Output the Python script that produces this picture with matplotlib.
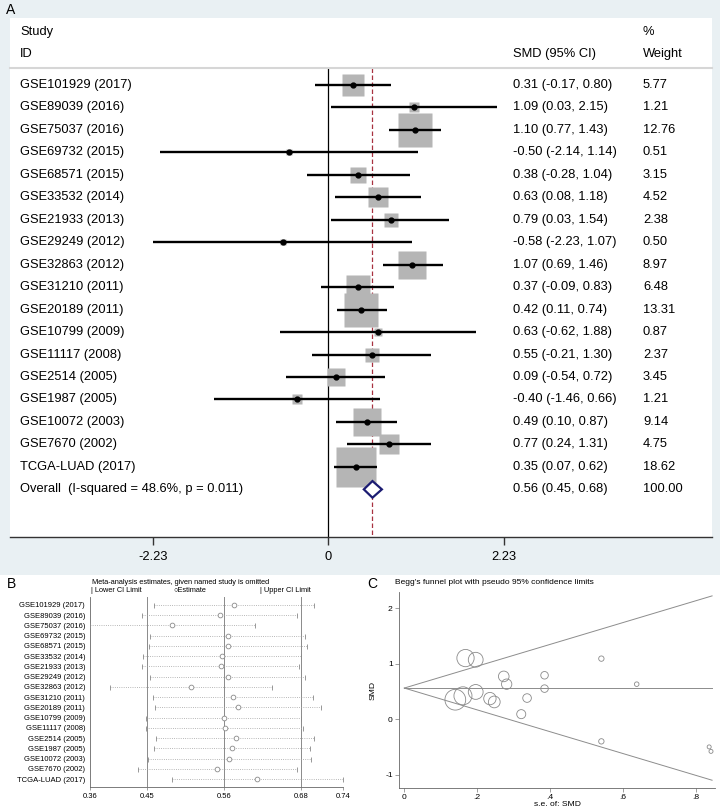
import numpy as np
import matplotlib
matplotlib.use("Agg")
import matplotlib.pyplot as plt
from matplotlib.patches import Rectangle, Polygon

plt.rcParams['font.family'] = ['Liberation Sans', 'DejaVu Sans']

# ---- data ----
studies = ["GSE101929 (2017)", "GSE89039 (2016)", "GSE75037 (2016)", "GSE69732 (2015)",
           "GSE68571 (2015)", "GSE33532 (2014)", "GSE21933 (2013)", "GSE29249 (2012)",
           "GSE32863 (2012)", "GSE31210 (2011)", "GSE20189 (2011)", "GSE10799 (2009)",
           "GSE11117 (2008)", "GSE2514 (2005)", "GSE1987 (2005)", "GSE10072 (2003)",
           "GSE7670 (2002)", "TCGA-LUAD (2017)"]
smd = [0.31, 1.09, 1.10, -0.50, 0.38, 0.63, 0.79, -0.58, 1.07,
       0.37, 0.42, 0.63, 0.55, 0.09, -0.40, 0.49, 0.77, 0.35]
ci_low = [-0.17, 0.03, 0.77, -2.14, -0.28, 0.08, 0.03, -2.23, 0.69,
          -0.09, 0.11, -0.62, -0.21, -0.54, -1.46, 0.10, 0.24, 0.07]
ci_high = [0.80, 2.15, 1.43, 1.14, 1.04, 1.18, 1.54, 1.07, 1.46,
           0.83, 0.74, 1.88, 1.30, 0.72, 0.66, 0.87, 1.31, 0.62]
weights = [5.77, 1.21, 12.76, 0.51, 3.15, 4.52, 2.38, 0.50, 8.97,
           6.48, 13.31, 0.87, 2.37, 3.45, 1.21, 9.14, 4.75, 18.62]
overall_est, overall_low, overall_high = 0.56, 0.45, 0.68
overall_label = "Overall  (I-squared = 48.6%, p = 0.011)"
forest_ticks = [-2.23, 0, 2.23]

# leave-one-out sensitivity (panel B)
loo_low = [0.458, 0.440, 0.362, 0.452, 0.450, 0.441, 0.440, 0.452, 0.392,
           0.456, 0.459, 0.446, 0.446, 0.461, 0.458, 0.448, 0.434, 0.484]
loo_est = [0.577, 0.556, 0.485, 0.568, 0.568, 0.559, 0.557, 0.568, 0.513,
           0.575, 0.583, 0.562, 0.563, 0.580, 0.574, 0.570, 0.552, 0.612]
loo_high = [0.697, 0.672, 0.608, 0.683, 0.686, 0.678, 0.674, 0.684, 0.634,
            0.695, 0.707, 0.677, 0.680, 0.697, 0.691, 0.692, 0.672, 0.740]
loo_ticks = [0.3617, 0.4474, 0.5624, 0.6770, 0.7403]
loo_ticklabels = ["0.36", "0.45", "0.56", "0.68", "0.74"]

# funnel plot (panel C)
se = [0.247, 0.541, 0.168, 0.837, 0.337, 0.281, 0.385, 0.842, 0.196,
      0.235, 0.161, 0.638, 0.385, 0.321, 0.541, 0.196, 0.273, 0.140]
funnel_se_max = 0.845
funnel_upper_end = 2.22
funnel_lower_end = -1.10

# ---- figure ----
W, H = 720, 808
BG = '#e9f0f3'


def fx(px):
    return px / W


def fy(py):
    return 1 - py / H


fig = plt.figure(figsize=(7.2, 8.08), dpi=100)
fig.patch.set_facecolor('white')
fig.patches.append(Rectangle((0, fy(575)), 1, 575 / H, transform=fig.transFigure,
                             facecolor=BG, edgecolor='none', zorder=-5))

# Panel A: forest plot
axA = fig.add_axes([fx(10), fy(537), fx(702), (537 - 18) / H])
axA.set_facecolor('white')
axA.set_xlim(-4.057, 4.885)
axA.set_ylim(20.12, -2.98)
for s in ['top', 'left', 'right']:
    axA.spines[s].set_visible(False)
axA.spines['bottom'].set_color('#333333')
axA.spines['bottom'].set_linewidth(1.0)
axA.set_yticks([])
axA.set_xticks(forest_ticks)
axA.set_xticklabels([f"{t:.2f}" if t != 0 else "0" for t in forest_ticks])
axA.tick_params(axis='x', length=5.8, width=1.0, color='#333333', pad=4, labelsize=9.3)

sep_y = -0.757
tr = axA.get_yaxis_transform()
axA.plot([0, 1], [sep_y, sep_y], transform=tr, color='#d6d6d6', lw=1.5, clip_on=False)
axA.plot([0, 0], [sep_y, 20.12], color='black', lw=0.9, zorder=1)
axA.plot([overall_est, overall_est], [sep_y, 20.12], color='#a83240', lw=0.9,
         ls=(0, (3.6, 2.0)), zorder=1)

fs = 9.3
axA.text(0.0142, -2.36, "Study", transform=tr, fontsize=fs, va='center')
axA.text(0.0142, -1.38, "ID", transform=tr, fontsize=fs, va='center')
axA.text(0.7165, -1.38, "SMD (95% CI)", transform=tr, fontsize=fs, va='center')
axA.text(0.9017, -2.36, "%", transform=tr, fontsize=fs, va='center')
axA.text(0.9017, -1.38, "Weight", transform=tr, fontsize=fs, va='center')

for i, name in enumerate(studies):
    axA.plot(smd[i], i, marker='s', ms=6.7 * np.sqrt(weights[i]), color='#b5b5b5',
             mec='none', zorder=2)
    axA.plot([ci_low[i], ci_high[i]], [i, i], color='black', lw=1.7, zorder=3,
             solid_capstyle='butt')
    axA.plot(smd[i], i, marker='o', ms=3.5, color='black', zorder=4)
    axA.text(0.0142, i, name, transform=tr, fontsize=fs, va='center')
    axA.text(0.7165, i, f"{smd[i]:.2f} ({ci_low[i]:.2f}, {ci_high[i]:.2f})",
             transform=tr, fontsize=fs, va='center')
    axA.text(0.9017, i, f"{weights[i]:.2f}", transform=tr, fontsize=fs, va='center')

oy = len(studies)
axA.add_patch(Polygon([(overall_low, oy), (overall_est, oy - 0.37),
                       (overall_high, oy), (overall_est, oy + 0.37)],
                      closed=True, facecolor='white', edgecolor='#1c1c72', lw=1.6, zorder=5))
axA.text(0.0142, oy, overall_label, transform=tr, fontsize=fs, va='center')
axA.text(0.7165, oy, f"{overall_est:.2f} ({overall_low:.2f}, {overall_high:.2f})",
         transform=tr, fontsize=fs, va='center')
axA.text(0.9017, oy, "100.00", transform=tr, fontsize=fs, va='center')

# Panel B: leave-one-out
axB = fig.add_axes([fx(90), fy(787), fx(253), 190 / H])
axB.set_xlim(loo_ticks[0], loo_ticks[-1])
axB.set_ylim(17.77, -0.78)
for s in ['top', 'right']:
    axB.spines[s].set_visible(False)
for s in ['left', 'bottom']:
    axB.spines[s].set_color('#666666')
    axB.spines[s].set_linewidth(0.6)
for v in loo_ticks[1:4]:
    axB.axvline(v, color='#8a8a8a', lw=0.7, zorder=1)
for i in range(len(studies)):
    axB.plot([loo_low[i], loo_high[i]], [i, i], color='#a0a0a0', lw=0.6, ls=':', zorder=2)
    axB.plot([loo_low[i], loo_high[i]], [i, i], ls='none', marker='|', ms=3.6,
             mew=0.6, color='#888888', zorder=3)
    axB.plot(loo_est[i], i, marker='o', ms=3.4, mfc='white', mec='#8a8a8a', mew=0.6, zorder=4)
axB.set_xticks(loo_ticks)
axB.set_xticklabels(loo_ticklabels)
axB.set_yticks(range(len(studies)))
axB.set_yticklabels(studies)
axB.tick_params(axis='x', length=2, width=0.5, color='#777777', labelsize=5.5, pad=2)
axB.tick_params(axis='y', length=0, labelsize=5.5, pad=3.6)

fig.text(fx(92), fy(582), "Meta-analysis estimates, given named study is omitted",
         fontsize=5.35, va='center')
fig.text(fx(91), fy(591), "| Lower CI Limit", fontsize=5.3, va='center')
fig.text(fx(173), fy(591), "\u25cbEstimate", fontsize=5.3, va='center')
fig.text(fx(260), fy(591), "| Upper CI Limit", fontsize=5.3, va='center')

# Panel C: funnel plot
axC = fig.add_axes([fx(399), fy(788), fx(316), 196 / H])
axC.set_xlim(-0.0146, 0.853)
axC.set_ylim(-1.24, 2.29)
for s in ['top', 'right']:
    axC.spines[s].set_visible(False)
for s in ['left', 'bottom']:
    axC.spines[s].set_color('#666666')
    axC.spines[s].set_linewidth(0.6)
lc = '#8c8c8c'
axC.plot([0, funnel_se_max], [overall_est, funnel_upper_end], color=lc, lw=0.7)
axC.plot([0, funnel_se_max], [overall_est, funnel_lower_end], color=lc, lw=0.7)
axC.plot([0, funnel_se_max], [overall_est, overall_est], color=lc, lw=0.7)
sizes = [max(2.09 / v, 2.9) ** 2 for v in se]
axC.scatter(se, smd, s=sizes, facecolors='none', edgecolors='#8a8a8a', linewidths=0.6)
axC.set_xticks([0, 0.2, 0.4, 0.6, 0.8])
axC.set_xticklabels(['0', '.2', '.4', '.6', '.8'])
axC.set_yticks([-1, 0, 1, 2])
axC.set_yticklabels(['-1', '0', '1', '2'])
axC.tick_params(length=3, width=0.5, color='#777777', labelsize=6.1, pad=1.5)
axC.set_xlabel("s.e. of: SMD", fontsize=6.1, labelpad=0)
axC.set_ylabel("SMD", fontsize=6.1, labelpad=6)
fig.text(fx(395), fy(582), "Begg's funnel plot with pseudo 95% confidence limits",
         fontsize=6.0, va='center')

# panel letters
fig.text(fx(11), fy(10), "A", fontsize=10, ha='center', va='center')
fig.text(fx(11), fy(584), "B", fontsize=10, ha='center', va='center')
fig.text(fx(372), fy(584), "C", fontsize=10, ha='center', va='center')

fig.savefig("out.png", dpi=100, facecolor=fig.get_facecolor())
